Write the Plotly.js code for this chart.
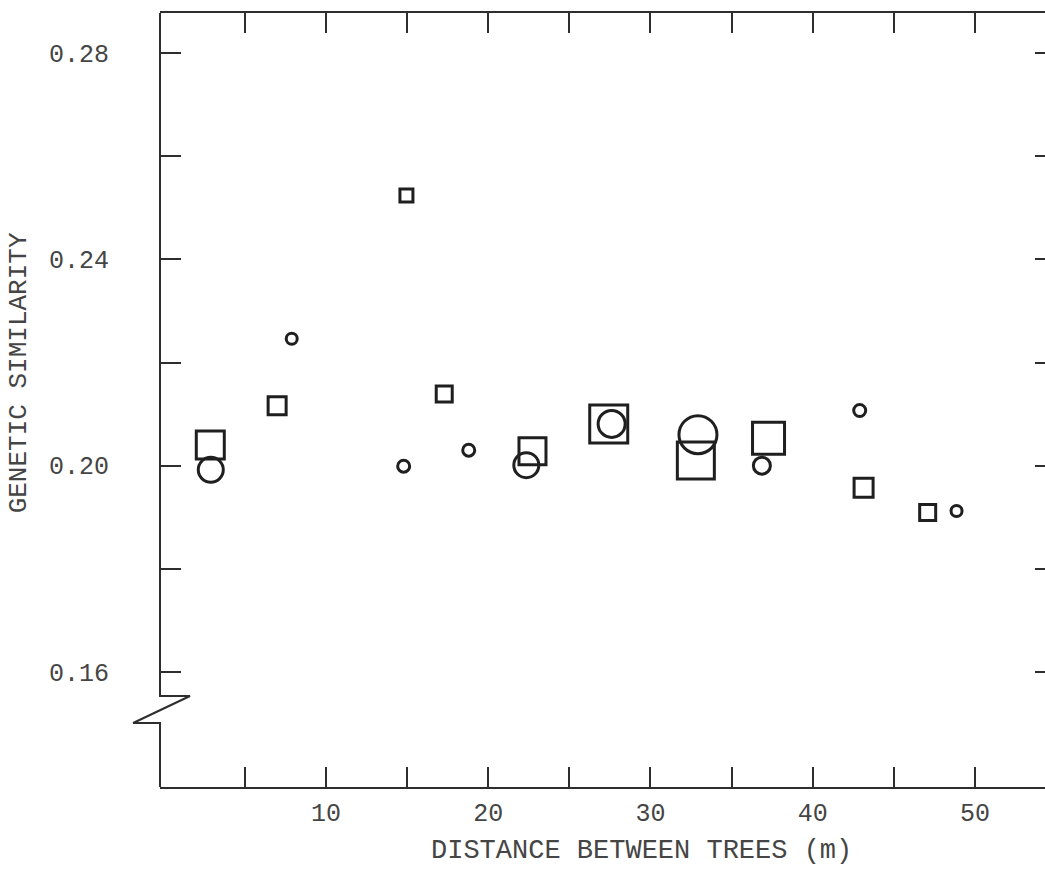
<!DOCTYPE html>
<html>
<head>
<meta charset="utf-8">
<script src="https://cdn.plot.ly/plotly-3.0.1.min.js"></script>
<style>
  html, body { margin: 0; padding: 0; overflow: hidden; background: #ffffff; }
  #chart { width: 1060px; height: 874px; }
</style>
</head>
<body>
<div id="chart"></div>
<script>
// ---- data ----
const squareDistance = [2.87, 6.99, 14.96, 17.29, 22.73, 27.43, 32.80, 37.28, 43.14, 47.09];
const squareSimilarity = [0.2040, 0.2116, 0.2524, 0.2139, 0.2028, 0.2081, 0.2010, 0.2053, 0.1957, 0.1909];
const squareWeight = [28, 18, 13, 16, 27, 38, 37, 32, 19, 16];

const circleDistance = [2.90, 7.89, 14.79, 18.80, 22.35, 27.61, 32.93, 36.87, 42.90, 48.87];
const circleSimilarity = [0.1992, 0.2246, 0.1999, 0.2030, 0.2001, 0.2081, 0.2060, 0.2000, 0.2107, 0.1912];
const circleWeight = [25, 11, 12, 12, 25, 27, 38, 17, 12, 11];

const xTickVals = [5, 10, 15, 20, 25, 30, 35, 40, 45, 50, 55];
const xTickText = ['', '10', '', '20', '', '30', '', '40', '', '50', ''];
const yTickVals = [0.16, 0.18, 0.20, 0.22, 0.24, 0.26, 0.28];
const yTickText = ['0.16', '', '0.20', '', '0.24', '', '0.28'];

const xTitle = 'DISTANCE BETWEEN TREES (m)';
const yTitle = 'GENETIC SIMILARITY';

// ---- styles ----
const ink = '#2e2e2e';
const markInk = '#1f1f1f';
const textInk = '#454545';
const fontFam = '"Liberation Mono", "DejaVu Sans Mono", monospace';

const traces = [
  {
    type: 'scatter', mode: 'markers', name: 'squares',
    x: squareDistance, y: squareSimilarity,
    marker: { symbol: 'square-open', size: squareWeight, sizemode: 'diameter', sizeref: 1,
              opacity: 1, color: markInk, line: { width: 3, color: markInk } },
    hoverinfo: 'x+y', cliponaxis: false
  },
  {
    type: 'scatter', mode: 'markers', name: 'circles',
    x: circleDistance, y: circleSimilarity,
    marker: { symbol: 'circle-open', size: circleWeight, sizemode: 'diameter', sizeref: 1,
              opacity: 1, color: markInk, line: { width: 3, color: markInk } },
    hoverinfo: 'x+y', cliponaxis: false
  }
];

const layout = {
  width: 1060, height: 874,
  margin: { l: 160, r: 4, t: 13, b: 87 },
  paper_bgcolor: '#ffffff', plot_bgcolor: '#ffffff',
  showlegend: false,
  font: { family: fontFam, color: textInk, size: 25 },
  xaxis: {
    range: [-0.23, 55.0],
    tickmode: 'array', tickvals: xTickVals, ticktext: xTickText,
    ticks: 'inside', ticklen: 20, tickwidth: 2, tickcolor: ink,
    showline: true, linecolor: ink, linewidth: 2, mirror: 'ticks',
    showgrid: false, zeroline: false,
    tickfont: { family: fontFam, size: 25, color: textInk },
    ticklabelstandoff: 2
  },
  yaxis: {
    range: [0.1377, 0.28776],
    tickmode: 'array', tickvals: yTickVals, ticktext: yTickText,
    ticks: 'inside', ticklen: 21, tickwidth: 2, tickcolor: ink,
    showline: false, mirror: 'ticks',
    showgrid: false, zeroline: false,
    tickfont: { family: fontFam, size: 25, color: textInk },
    ticklabelstandoff: 50
  },
  shapes: [
    // left axis line with a break (zigzag)
    { type: 'path', xref: 'paper', yref: 'paper',
      path: 'M 0 0 L 0 0.0827 L -0.030 0.0827 L 0.0335 0.1176 L 0 0.1176 L 0 1',
      line: { color: ink, width: 2 } }
  ],
  annotations: [
    { text: xTitle, xref: 'paper', yref: 'paper', x: 0.537, y: -0.083,
      xanchor: 'center', yanchor: 'middle', showarrow: false,
      font: { family: fontFam, size: 27, color: textInk } },
    { text: yTitle, xref: 'paper', yref: 'paper', x: -0.158, y: 0.535,
      xanchor: 'center', yanchor: 'middle', showarrow: false, textangle: -90,
      font: { family: fontFam, size: 26, color: textInk } }
  ]
};

Plotly.newPlot('chart', traces, layout, { displayModeBar: false, staticPlot: true });
</script>
</body>
</html>
